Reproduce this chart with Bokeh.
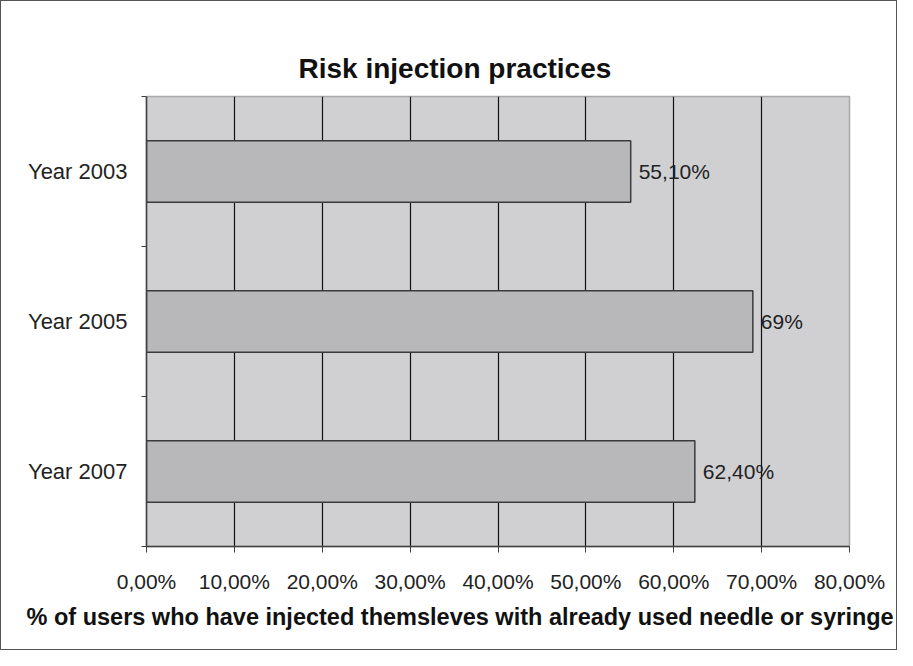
from bokeh.plotting import figure
from bokeh.models import Range1d, FixedTicker, Title, ColumnDataSource
from bokeh.core.properties import value
from bokeh.embed import file_html
from bokeh.resources import INLINE

categories = ["Year 2003", "Year 2005", "Year 2007"]
values = [55.1, 69.0, 62.4]
value_labels = ["55,10%", "69%", "62,40%"]
x_ticks = [0, 10, 20, 30, 40, 50, 60, 70, 80]
x_tick_labels = ["0,00%", "10,00%", "20,00%", "30,00%", "40,00%", "50,00%", "60,00%", "70,00%", "80,00%"]
title_text = "Risk injection practices"
x_label = "% of users who have injected themsleves with already used needle or syringe"

FONT = "Liberation Sans"
pos = [i + 0.5 for i in range(len(categories))]
src = ColumnDataSource(dict(cat=categories, val=values, lab=value_labels, y=pos))

p = figure(width=897, height=650, output_backend="svg", toolbar_location=None,
           x_range=Range1d(0, 80), y_range=Range1d(len(categories), 0),
           min_border_left=145, min_border_right=49, min_border_top=95, min_border_bottom=105)
p.background_fill_color = "#d0d0d2"
p.border_fill_color = "white"
p.outline_line_color = "#a8a8a8"
p.outline_line_width = 1.5
p.styles = {"border": "1.5px solid #555555"}

# title (left-aligned with an offset so it sits centred on the whole figure)
p.title.text = title_text
p.title.align = "left"
p.title.offset = 152
p.title.text_font = FONT
p.title.text_font_size = "28px"
p.title.text_font_style = "bold"
p.title.text_color = "#111111"
p.title.standoff = 25

p.hbar(y="y", right="val", left=0, height=0.41, source=src,
       fill_color="#b8b8ba", line_color="#3a3a3a", line_width=1.5)
p.text(x="val", y="y", text="lab", source=src, x_offset=8,
       text_align="left", text_baseline="middle", text_font=value(FONT),
       text_font_size="21px", text_color="#222222")

# x axis
p.xaxis.ticker = FixedTicker(ticks=x_ticks)
p.xaxis.major_label_overrides = {t: l for t, l in zip(x_ticks, x_tick_labels)}
p.xaxis.major_label_text_font = FONT
p.xaxis.major_label_text_font_size = "21px"
p.xaxis.major_label_text_color = "#222222"
p.xaxis.major_label_standoff = 17
p.xaxis.major_tick_in = 0
p.xaxis.major_tick_out = 6
p.xaxis.minor_tick_line_color = None
p.xaxis.axis_line_color = "#404040"
p.xaxis.axis_line_width = 1.5
p.xaxis.major_tick_line_color = "#404040"

# axis title as a Title below the axis
xt = Title(text=x_label, align="left", offset=-120, text_font=FONT,
           text_font_size="23.5px", text_font_style="bold", text_color="#111111",
           standoff=12)
p.add_layout(xt, "below")

# y axis
p.yaxis.ticker = FixedTicker(ticks=pos, minor_ticks=list(range(len(categories) + 1)))
p.yaxis.major_label_overrides = {t: c for t, c in zip(pos, categories)}
p.yaxis.major_label_text_font = FONT
p.yaxis.major_label_text_font_size = "22px"
p.yaxis.major_label_text_color = "#222222"
p.yaxis.major_label_standoff = 13
p.yaxis.major_tick_line_color = None
p.yaxis.minor_tick_in = 0
p.yaxis.minor_tick_out = 5
p.yaxis.minor_tick_line_color = "#404040"
p.yaxis.axis_line_color = "#404040"
p.yaxis.axis_line_width = 1.5

p.xgrid.ticker = FixedTicker(ticks=x_ticks)
p.xgrid.grid_line_color = "#111111"
p.xgrid.grid_line_width = 1.2
p.ygrid.grid_line_color = None

open("out.html", "w").write(file_html(p, INLINE))
